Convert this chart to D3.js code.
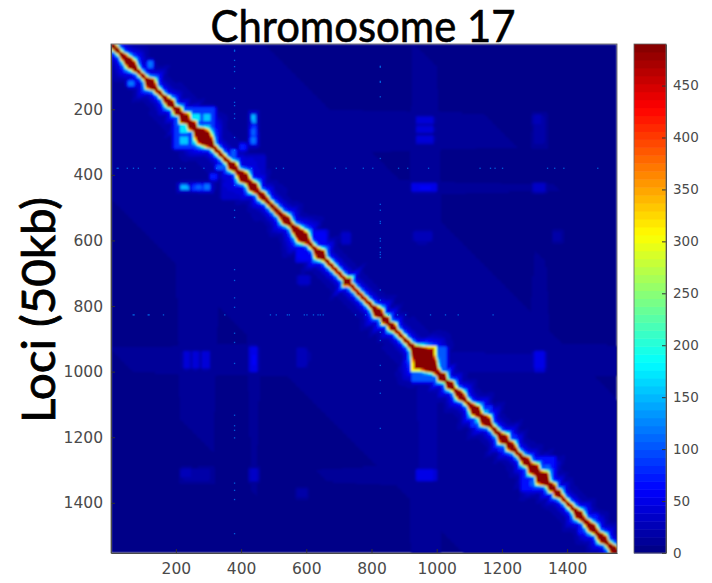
<!DOCTYPE html>
<html>
<head>
<meta charset="utf-8">
<script src="https://cdn.jsdelivr.net/npm/d3@7"></script>
<style>
  body { margin: 0; background: #fff; }
  svg { display: block; }
</style>
</head>
<body>
<div id="chart"></div>
<script>
var lociMax = 1553;
var colorMax = 490;

var xTicks = [200, 400, 600, 800, 1000, 1200, 1400];
var yTicks = [200, 400, 600, 800, 1000, 1200, 1400];
var colorTicks = [0, 50, 100, 150, 200, 250, 300, 350, 400, 450];

// red diagonal: half width (in loci) read along the diagonal
var bandLoci = [0,30,61,80,105,120,135,160,181,192,203,213,225,236,248,258,270,283,300,312,340,360,371,385,405,420,436,450,463,480,520,534,552,571,589,605,625,641,655,700,716,724,732,770,800,820,830,841,851,862,872,900,915,925,958,996,1006,1015,1027,1040,1052,1071,1085,1100,1117,1132,1148,1163,1190,1203,1215,1225,1240,1260,1271,1283,1295,1308,1322,1340,1353,1361,1368,1380,1420,1434,1450,1476,1490,1507,1520,1547,1553];
var bandWidths = [8,7,17,6,6,20,7,7,14,6,16,8,22,8,18,8,22,30,18,7,7,7,16,7,20,9,18,7,13,7,9,16,7,16,22,7,7,20,7,6,7,20,6,6,7,18,7,16,6,14,6,7,7,10,50,10,8,18,6,15,6,15,7,7,20,8,20,7,8,20,8,16,7,8,16,9,22,11,28,9,15,6,14,6,7,16,7,15,7,15,7,14,9];

// how the count falls off outside the red band, by loci past its edge
var decayOffsets = [0, 4, 8, 13, 20, 32, 60, 120];
var decayValues = [490, 380, 250, 150, 90, 50, 22, 0];

// counts far from the diagonal, by |i - j|
var farOffsets = [0, 50, 100, 200, 400, 800, 1553];
var farValues = [26, 18, 13, 10, 8, 6, 4];

// domains and contact blocks: [x0, x1, y0, y1, count]; mirrored over the diagonal
var blocks = [
  [921, 996, 921, 996, 300],
  [927, 990, 927, 990, 450],
  [925, 998, 998, 1026, 95],
  [998, 1014, 925, 1000, 85],
  [205, 315, 195, 315, 80],
  [212, 234, 246, 270, 160],
  [212, 234, 282, 304, 150],
  [247, 269, 282, 304, 150],
  [212, 234, 215, 236, 140],
  [268, 298, 268, 298, 340],
  [214, 232, 430, 440, 150],
  [260, 276, 431, 440, 100],
  [286, 300, 430, 440, 110],
  [431, 442, 214, 238, 130],
  [431, 442, 250, 300, 80],
  [205, 310, 425, 448, 28],
  [54, 68, 114, 124, 110],
  [60, 130, 60, 130, 32],
  [370, 379, 325, 355, 95],
  [397, 410, 307, 320, 65],
  [340, 470, 340, 470, 30],
  [1115, 1135, 1135, 1156, 135],
  [1105, 1165, 1105, 1165, 72],
  [1298, 1335, 1298, 1335, 150],
  [1285, 1300, 1330, 1345, 95],
  [1260, 1360, 1260, 1360, 55],
  [1435, 1490, 1435, 1490, 60],
  [1190, 1240, 1190, 1240, 68],
  [570, 660, 570, 660, 46],
  [577, 600, 577, 600, 120],
  [630, 652, 630, 652, 150],
  [716, 732, 716, 732, 170],
  [815, 845, 815, 845, 70],
  [1020, 1060, 1020, 1060, 35],
  [940, 985, 225, 238, 38],
  [940, 985, 252, 266, 34],
  [940, 985, 282, 298, 38],
  [428, 444, 925, 995, 44],
  [948, 980, 430, 442, 48],
  [1297, 1328, 428, 446, 30],
  [1300, 1325, 225, 300, 18],
  [940, 965, 575, 605, 16],
  [708, 730, 575, 605, 26],
  [572, 596, 930, 980, 20],
  [218, 242, 1298, 1318, 22],
  [254, 296, 1300, 1316, 16],
  [428, 444, 1298, 1328, 26],
  [940, 985, 1300, 1326, 44],
  [1300, 1326, 945, 995, 38],
  [1010, 1290, 945, 995, 14],
  [572, 598, 1358, 1378, 15]
];

// faint full-length stripes: [x0, x1, count]; added on top, mirrored as well
var stripes = [
  [210, 315, 2],
  [428, 446, 2],
  [925, 1000, 2],
  [1298, 1332, 1]
];

// speckled rows / columns seen in the map
var dotLociA = 378;
var dotListA = [18,21,49,68,83,134,177,187,212,226,284,323,413,430,506,528,687,720,773,802,881,909,973,1131,1163,1177,1200,1338,1360,1388,1492];
var dotLociB = 825;
var dotListB = [67,70,113,116,160,348,488,506,540,546,592,600,620,634,641,650,749,780,850,878,903,979,1025,1064,1171];
var dotCount = 130;

var width = 712, height = 583;
var plot = {left: 111, right: 617, top: 44, bottom: 553};
var bar = {left: 634, right: 666};
var cellStep = 4;

var x = d3.scaleLinear().domain([1, lociMax]).range([plot.left, plot.right]);
var y = d3.scaleLinear().domain([1, lociMax]).range([plot.top, plot.bottom]);
var colorY = d3.scaleLinear().domain([0, colorMax]).range([plot.bottom, plot.top]);

var bandScale = d3.scaleLinear().domain(bandLoci).range(bandWidths).clamp(true);
var decayScale = d3.scaleLinear().domain(decayOffsets).range(decayValues).clamp(true);
var farScale = d3.scaleLinear().domain(farOffsets).range(farValues).clamp(true);

var jet = d3.scaleLinear()
  .domain([0, 0.125, 0.375, 0.625, 0.875, 1])
  .range(["#000080", "#0000ff", "#00ffff", "#ffff00", "#ff0000", "#800000"]);

var levels = 64;
var levelColors = d3.range(levels).map(function(k){ return jet((k + 0.5) / levels); });

function edge(t, a, b, e){
  return Math.max(0, Math.min(1, (t - a + e) / e, (b - t + e) / e));
}

function blockValue(i, j){
  var best = 0;
  for(var k = 0; k < blocks.length; k++){
    var b = blocks[k];
    var e = b[4] > 110 ? 4 : 12;
    var v = b[4] * Math.max(
      edge(i, b[0], b[1], e) * edge(j, b[2], b[3], e),
      edge(j, b[0], b[1], e) * edge(i, b[2], b[3], e)
    );
    if(v > best) best = v;
  }
  return best;
}

function stripeValue(i, j){
  var sum = 0;
  stripes.forEach(function(s){
    sum += s[2] * Math.max(edge(i, s[0], s[1], 12), edge(j, s[0], s[1], 12));
  });
  return sum;
}

function contact(i, j){
  var d = Math.abs(i - j);
  var w = bandScale((i + j) / 2);
  var past = Math.max(0, d - w);
  var band = decayScale(past / Math.min(1.4, 0.6 + w / 30));
  var far = farScale(d) + stripeValue(i, j);
  return Math.min(colorMax, Math.max(band, far, blockValue(i, j) + far * 0.5));
}

function levelOf(v){
  return Math.min(levels - 1, Math.floor(v / colorMax * levels));
}

// merge neighbouring cells of one colour so the svg stays small
var runs = [];
d3.range(1, lociMax, cellStep).forEach(function(row){
  var start = 1, level = levelOf(contact(1, row));
  for(var col = 1 + cellStep; col <= lociMax + cellStep; col += cellStep){
    var next = col <= lociMax ? levelOf(contact(col, row)) : -1;
    if(next !== level){
      if(level > 0) runs.push({row: row, from: start, to: col, level: level});
      start = col;
      level = next;
    }
  }
});

var svg = d3.select("#chart").append("svg")
  .attr("width", width)
  .attr("height", height)
  .attr("viewBox", [0, 0, width, height]);

var defs = svg.append("defs");
defs.append("clipPath").attr("id", "plot-clip").append("rect")
  .attr("x", plot.left).attr("y", plot.top)
  .attr("width", plot.right - plot.left).attr("height", plot.bottom - plot.top);
defs.append("filter").attr("id", "soft")
  .attr("x", 0).attr("y", 0).attr("width", 1).attr("height", 1)
  .append("feGaussianBlur").attr("stdDeviation", 0.8);

var map = svg.append("g").attr("clip-path", "url(#plot-clip)");
var mapInner = map.append("g").attr("filter", "url(#soft)");

mapInner.append("rect")
  .attr("x", plot.left).attr("y", plot.top)
  .attr("width", plot.right - plot.left).attr("height", plot.bottom - plot.top)
  .attr("fill", levelColors[0]);

mapInner.selectAll("rect.run")
  .data(runs)
  .enter().append("rect")
  .attr("class", "run")
  .attr("x", function(d){ return x(d.from); })
  .attr("y", function(d){ return y(d.row); })
  .attr("width", function(d){ return x(d.to) - x(d.from); })
  .attr("height", y(1 + cellStep) - y(1) + 0.5)
  .attr("fill", function(d){ return levelColors[d.level]; })
  .attr("shape-rendering", "crispEdges");

// speckles, both sides of the diagonal
var dots = [];
dotListA.forEach(function(l){ dots.push([dotLociA, l], [l, dotLociA]); });
dotListB.forEach(function(l){ dots.push([dotLociB, l], [l, dotLociB]); });
map.selectAll("rect.dot")
  .data(dots)
  .enter().append("rect")
  .attr("class", "dot")
  .attr("x", function(d){ return x(d[0]); })
  .attr("y", function(d){ return y(d[1]); })
  .attr("width", 1.3)
  .attr("height", 1.3)
  .attr("fill", levelColors[levelOf(dotCount)])
  .attr("opacity", 0.7);

var xAxis = d3.axisBottom(x).tickValues(xTicks).tickFormat(d3.format("d")).tickSizeInner(-4).tickSizeOuter(0).tickPadding(10);
var yAxis = d3.axisLeft(y).tickValues(yTicks).tickFormat(d3.format("d")).tickSizeInner(-4).tickSizeOuter(0).tickPadding(8);

svg.append("g").attr("transform", "translate(0," + plot.bottom + ")").call(xAxis)
  .call(styleAxis, 15.5);
svg.append("g").attr("transform", "translate(" + plot.left + ",0)").call(yAxis)
  .call(styleAxis, 15.5);

function styleAxis(sel, size){
  sel.selectAll("text")
    .style("font-family", "'DejaVu Sans', sans-serif")
    .style("font-size", size + "px")
    .attr("fill", "#4a4a4a");
  sel.selectAll("line").attr("stroke", "#333");
  sel.select(".domain").attr("stroke", "#444");
}

// frame on the open sides
svg.append("rect")
  .attr("x", plot.left).attr("y", plot.top)
  .attr("width", plot.right - plot.left).attr("height", plot.bottom - plot.top)
  .attr("fill", "none").attr("stroke", "#555").attr("stroke-width", 0.8);

// colorbar, 64 steps
svg.append("g").selectAll("rect")
  .data(d3.range(levels))
  .enter().append("rect")
  .attr("x", bar.left)
  .attr("width", bar.right - bar.left)
  .attr("y", function(k){ return colorY((k + 1) * colorMax / levels); })
  .attr("height", colorY(0) - colorY(colorMax / levels) + 0.5)
  .attr("fill", function(k){ return levelColors[k]; });

var colorAxis = d3.axisRight(colorY).tickValues(colorTicks).tickSizeInner(-4).tickSizeOuter(0).tickPadding(7);
svg.append("g").attr("transform", "translate(" + bar.right + ",0)").call(colorAxis)
  .call(styleAxis, 13.5);

svg.append("rect")
  .attr("x", bar.left).attr("y", plot.top)
  .attr("width", bar.right - bar.left).attr("height", plot.bottom - plot.top)
  .attr("fill", "none").attr("stroke", "#666").attr("stroke-width", 0.8);

// big hand-added titles
svg.append("text")
  .attr("x", 363).attr("y", 42)
  .attr("text-anchor", "middle")
  .attr("textLength", 305).attr("lengthAdjust", "spacingAndGlyphs")
  .style("font-family", "Lato, sans-serif")
  .style("font-size", "44px")
  .attr("fill", "#000").attr("stroke", "#000").attr("stroke-width", 0.6)
  .text("Chromosome 17");

svg.append("text")
  .attr("transform", "translate(55,310) rotate(-90)")
  .attr("text-anchor", "middle")
  .attr("textLength", 226).attr("lengthAdjust", "spacingAndGlyphs")
  .style("font-family", "Lato, sans-serif")
  .style("font-size", "46px")
  .attr("fill", "#000").attr("stroke", "#000").attr("stroke-width", 0.8)
  .text("Loci (50kb)");
</script>
</body>
</html>
